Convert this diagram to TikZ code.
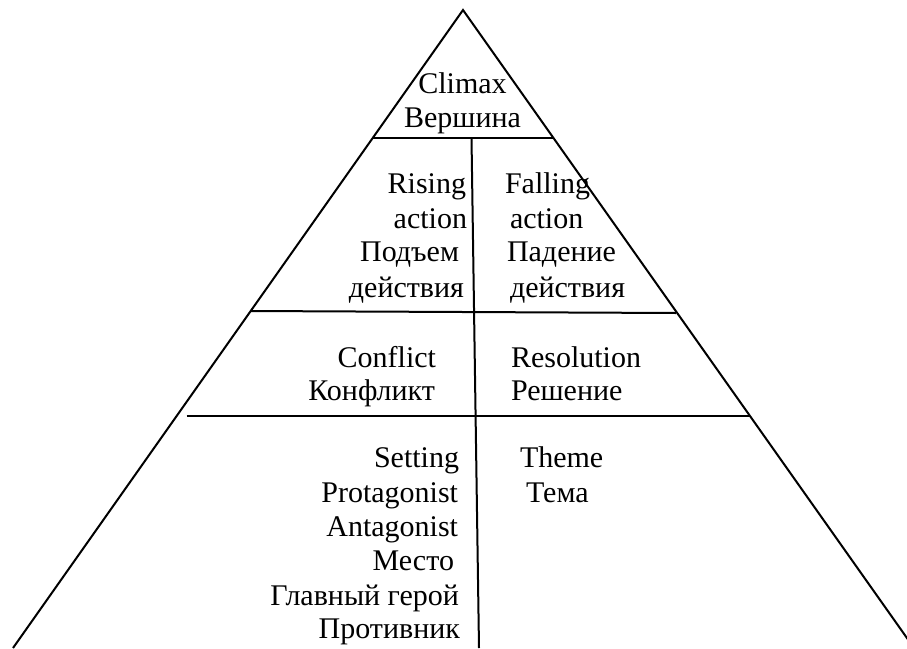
\documentclass[tikz,border=0pt]{standalone}
\usepackage{fontspec}
\setmainfont{Liberation Serif}
\usetikzlibrary{calc}
\tikzset{
  edge/.style={line width=2pt, black, line cap=butt},
  lbl/.style={inner sep=0pt, outer sep=0pt, font=\fontsize{30}{34}\selectfont},
  lr/.style={lbl, anchor=base east},
  ll/.style={lbl, anchor=base west},
  lc/.style={lbl, anchor=base}
}
\begin{document}
\begin{tikzpicture}[x=1pt,y=-1pt]
\useasboundingbox (0,0) rectangle (907,648);
\fill[white] (0,0) rectangle (907,648);
\coordinate (apex) at (463,10);
\coordinate (bl) at (13,648);
\coordinate (br) at (914,648);
% points on sides
\coordinate (t1l) at (372.7,138);
\coordinate (t1r) at (553.5,138);
\coordinate (t2l) at (250.5,311);
\coordinate (t2r) at (676,313);
\coordinate (t3l) at (186.5,416);
\coordinate (t3r) at (750,416);
\coordinate (vtop) at (471.5,138);
\coordinate (vbot) at (479,648);
\begin{scope}
\clip (0,0) rectangle (907,648);
\draw[edge] (bl) -- (apex) -- (br);
\draw[edge] (t1l) -- (t1r);
\draw[edge] (t2l) -- (t2r);
\draw[edge] (t3l) -- (t3r);
\draw[edge] (vtop) -- (vbot);
\end{scope}
% Climax
\node[lc] (climax) at (462.5,93) {Climax};
\node[lc] (vershina) at (462.5,127) {Вершина};
% Rising action
\node[lr] (rising) at (466,193) {Rising};
\node[lr] (raction) at (467,228) {action};
\node[lr] (podem) at (459,261) {Подъем};
\node[lr] (rdeistv) at (464,297) {действия};
% Falling action
\node[ll] (falling) at (505,193) {Falling};
\node[ll] (faction) at (510,228) {action};
\node[ll] (padenie) at (507,261) {Падение};
\node[ll] (fdeistv) at (510,297) {действия};
% Conflict / Resolution
\node[lr] (conflict) at (436,367) {Conflict};
\node[lr] (konflikt) at (435,400) {Конфликт};
\node[ll] (resolution) at (511,367) {Resolution};
\node[ll] (reshenie) at (511,400) {Решение};
% Setting etc.
\node[lr] (setting) at (459,467) {Setting};
\node[lr] (protag) at (458,502) {Protagonist};
\node[lr] (antag) at (458,536) {Antagonist};
\node[lr] (mesto) at (454,570) {Место};
\node[lr] (glavny) at (459,605) {Главный герой};
\node[lr] (protivnik) at (460,638) {Противник};
\node[ll] (theme) at (520,467) {Theme};
\node[ll] (tema) at (526,502) {Тема};
\end{tikzpicture}
\end{document}
